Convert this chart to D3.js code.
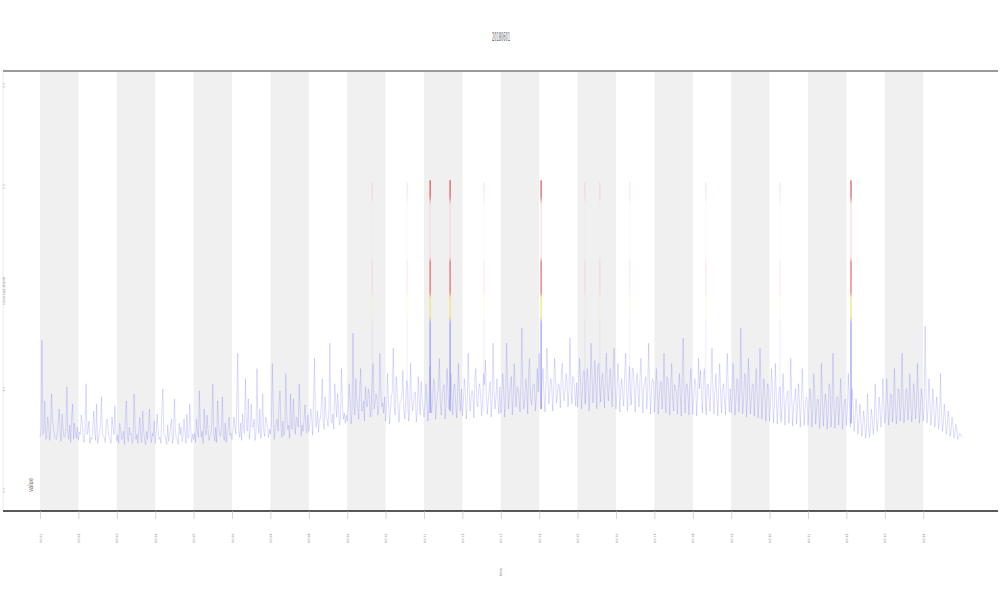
<!DOCTYPE html>
<html><head><meta charset="utf-8">
<script src="https://cdn.jsdelivr.net/npm/d3@7/dist/d3.min.js"></script>
<style>body{margin:0;background:#fff}svg{display:block}</style>
</head><body>
<svg id="c" width="1000" height="600"></svg>
<script>
const title = "20180601";
const xTitle = "time";
const yTitle = "coverage_depth";
const legendLabel = "value";
const xTickValues = d3.range(0, 24);
const xTickLabels = ["06-01","06-02","06-03","06-04","06-05","06-06","06-07","06-08","06-09","06-10","06-11","06-12","06-13","06-14","06-15","06-16","06-17","06-18","06-19","06-20","06-21","06-22","06-23","06-24"];
const yTickValues = [0, 1, 2, 3, 4];
const bandStarts = [0, 2, 4, 6, 8, 10, 12, 14, 16, 18, 20, 22];
const sampleStep = 0.025;
// readings at even sample positions
const series = [
0.52,1.48,0.58,0.50,0.72,0.49,0.95,0.62,0.51,0.56,0.80,0.48,0.62,0.53,1.02,0.50,0.47,0.85,0.66,0.51,
0.49,0.55,0.66,0.47,1.05,0.58,0.46,0.50,0.78,0.49,0.46,0.58,0.92,0.53,0.47,0.70,0.52,0.46,0.63,0.83,
0.48,0.46,0.60,0.52,0.45,0.88,0.48,0.55,0.46,0.95,0.50,0.46,0.72,0.47,0.58,0.45,0.50,0.80,0.47,0.53,
0.46,0.75,0.50,0.46,1.00,0.55,0.45,0.48,0.62,0.46,0.90,0.52,0.45,0.55,0.48,0.70,0.46,0.51,0.85,0.47,
0.50,0.47,0.58,0.98,0.52,0.46,0.60,0.74,0.49,0.55,1.05,0.48,0.47,0.66,0.53,0.92,0.49,0.47,0.60,0.54,
0.50,0.72,0.55,1.35,0.52,0.49,0.60,1.10,0.58,0.50,0.85,0.62,0.49,1.20,0.56,0.51,0.95,0.53,0.68,0.52,
0.55,1.25,0.50,0.66,0.58,0.98,0.52,0.54,1.15,0.60,0.51,0.62,0.90,0.55,0.70,1.05,0.53,0.58,0.84,0.56,
0.58,0.80,0.54,1.30,0.62,0.57,0.70,1.10,0.60,0.74,0.63,1.45,0.66,0.60,0.88,0.95,0.64,1.20,0.70,0.66,
0.68,1.05,0.65,1.55,0.74,0.90,0.70,1.20,0.78,0.68,0.85,1.00,0.72,1.10,0.80,0.95,0.74,1.35,0.82,0.76,
0.68,1.15,0.65,0.92,1.40,0.74,1.00,0.67,0.88,1.18,0.70,1.08,0.68,1.25,0.78,0.96,0.67,1.12,0.74,0.90,
0.72,1.05,0.68,1.22,0.76,1.10,0.70,0.95,1.30,0.74,1.00,0.70,1.20,0.80,1.15,0.74,1.05,0.71,1.25,0.78,
0.73,1.10,0.70,1.35,0.78,0.98,0.71,1.20,0.82,1.05,0.73,1.15,1.28,0.75,1.00,0.72,1.45,0.80,1.10,0.75,
0.76,1.15,0.72,1.45,0.80,1.05,0.74,1.25,0.82,1.00,0.77,1.60,0.80,1.10,0.75,1.30,0.84,1.05,0.78,1.20,
1.35,0.80,1.20,0.77,1.40,0.85,1.10,0.78,1.30,0.86,1.05,0.81,1.25,0.88,1.15,0.82,1.50,0.85,1.10,0.83,
0.82,1.30,0.80,1.18,0.85,1.20,0.78,1.45,0.86,1.28,0.80,1.25,0.87,1.15,0.81,1.35,0.88,1.20,0.82,1.40,
0.80,1.25,0.77,1.10,0.83,1.35,0.78,1.22,0.84,1.20,0.77,1.15,0.82,1.30,0.76,1.05,0.80,1.45,0.75,1.10,
0.77,1.20,0.75,1.05,0.80,1.35,0.76,1.10,0.74,1.25,0.78,1.00,0.75,1.15,0.73,1.50,0.76,1.05,0.74,1.20,
0.75,1.10,0.73,1.30,1.18,0.76,1.20,0.74,1.05,0.78,1.40,0.75,1.15,0.73,1.25,0.76,1.05,0.74,1.35,0.77,
0.76,1.25,0.74,1.10,0.77,1.60,0.75,1.15,0.72,1.30,0.75,1.05,0.73,1.20,0.71,1.40,0.70,1.10,0.68,1.05,
0.68,1.20,0.66,1.25,0.65,1.00,0.67,1.15,0.64,0.95,0.66,1.30,0.63,0.90,0.65,1.05,0.62,1.20,0.64,0.92,
0.64,1.00,0.62,1.15,0.65,0.90,0.61,1.25,0.63,0.95,0.60,1.05,0.62,1.35,0.61,0.92,0.64,1.10,0.60,0.88,
0.64,1.15,0.62,1.00,0.58,0.90,0.55,0.85,0.53,0.78,0.51,0.95,0.52,0.80,0.55,1.05,0.58,0.92,0.62,1.10,
0.66,1.10,0.64,0.95,0.67,1.20,0.65,1.00,0.68,1.35,0.66,0.98,0.69,1.15,0.67,1.05,0.70,1.25,0.66,1.00,
0.68,1.62,0.66,1.10,0.64,1.00,0.62,0.92,0.60,1.15,0.58,0.85,0.55,0.78,0.53,0.72,0.51,0.65,0.50,0.56,
0.52];
// readings at odd (in-between) sample positions
const seriesB = [
0.60,0.55,0.88,0.52,0.65,0.58,0.70,0.54,0.50,0.68,0.57,0.75,0.52,0.60,0.55,0.64,0.72,0.50,0.58,0.62,
0.57,0.74,0.50,0.62,0.55,0.68,0.52,0.60,0.57,0.85,0.50,0.63,0.56,0.52,0.66,0.58,0.50,0.72,0.55,0.60,
0.54,0.66,0.50,0.58,0.72,0.52,0.62,0.56,0.50,0.64,0.55,0.60,0.52,0.78,0.50,0.58,0.62,0.53,0.56,0.68,
0.55,0.60,0.52,0.82,0.56,0.50,0.64,0.54,0.70,0.52,0.58,0.50,0.66,0.62,0.53,0.57,0.75,0.52,0.60,0.55,
0.56,0.70,0.52,0.62,0.58,0.80,0.54,0.60,0.52,0.68,0.57,0.62,0.88,0.55,0.60,0.53,0.66,0.58,0.72,0.56,
0.60,0.62,0.85,0.58,0.66,0.75,0.56,0.64,0.90,0.58,0.62,0.70,0.56,0.66,0.80,0.60,0.58,0.72,0.62,0.60,
0.64,0.78,0.60,0.70,0.85,0.62,0.68,0.58,0.75,0.64,0.95,0.60,0.66,0.72,0.62,0.80,0.64,0.70,0.62,0.74,
0.66,0.72,0.90,0.64,0.78,0.70,0.85,0.66,0.92,0.70,0.80,0.68,0.75,1.05,0.72,0.80,0.70,0.86,0.76,0.74,
0.80,0.92,0.76,0.85,1.10,0.80,0.96,0.78,0.88,1.02,0.82,0.94,0.80,1.25,0.84,0.90,0.82,1.00,0.86,0.92,
0.80,0.90,0.76,0.97,0.82,1.12,0.78,0.87,0.94,0.80,0.88,1.02,0.77,0.92,0.84,0.97,0.80,0.90,1.07,0.82,
0.84,0.92,0.80,0.97,0.88,1.07,0.82,1.00,0.86,0.94,1.04,0.84,0.97,0.88,0.92,1.02,0.85,0.96,0.89,1.00,
0.87,0.97,0.84,1.02,0.90,0.94,1.12,0.87,1.00,0.92,0.88,1.04,0.92,0.89,1.07,0.87,0.97,0.92,0.90,1.02,
0.92,1.00,0.88,1.04,0.94,1.12,0.90,0.97,1.02,0.92,1.07,0.94,0.90,1.00,1.17,0.92,0.98,1.04,0.92,0.97,
0.97,1.07,0.94,1.02,1.12,0.96,1.04,0.98,1.10,0.94,1.02,1.14,0.96,1.00,1.07,0.97,1.04,1.12,0.98,1.06,
1.00,1.10,0.97,1.17,1.02,1.07,0.98,1.12,1.04,1.00,1.22,1.02,1.08,0.98,1.14,1.02,1.07,1.00,1.18,1.04,
0.98,1.07,1.02,0.94,1.12,1.00,1.04,0.97,1.20,1.00,1.06,0.96,1.10,0.98,1.02,1.12,0.96,1.04,1.00,1.07,
0.96,1.02,0.92,1.07,0.98,0.94,1.12,0.96,1.02,0.90,1.04,0.97,1.00,0.92,1.14,0.96,1.02,0.94,1.06,0.98,
0.94,1.04,0.92,1.00,0.96,1.07,0.92,1.02,0.90,1.10,0.96,0.98,0.92,1.04,0.94,1.00,0.90,1.06,0.96,1.00,
0.94,1.02,0.90,1.07,0.96,0.98,0.92,1.12,0.94,1.00,0.90,1.04,0.92,0.97,0.88,1.02,0.90,0.96,0.86,1.00,
0.87,0.97,0.84,0.92,0.88,1.02,0.82,0.90,0.86,0.98,0.82,0.92,0.84,1.00,0.80,0.88,0.84,0.94,0.80,0.90,
0.82,0.90,0.78,0.96,0.80,0.87,0.77,0.92,0.82,0.86,0.78,1.00,0.80,0.88,0.77,0.92,0.82,0.86,0.76,0.90,
0.78,0.87,0.74,0.82,0.70,0.78,0.66,0.72,0.62,0.68,0.60,0.64,0.62,0.70,0.66,0.76,0.70,0.80,0.74,0.84,
0.80,0.88,0.76,0.94,0.82,0.87,0.78,0.97,0.84,0.90,0.80,1.00,0.82,0.88,0.78,0.94,0.84,0.90,0.80,0.92,
0.82,0.97,0.80,0.88,0.76,0.84,0.72,0.80,0.70,0.76,0.66,0.72,0.62,0.68,0.58,0.64,0.55,0.60,0.53,0.55];
// isolated high readings: position (x units), value, and whether the trace is saturated
const peakPos    = [8.65, 9.56, 10.16, 10.68, 11.56, 13.05, 14.19, 14.58, 15.36, 17.34, 19.27, 21.12];
const peakValue  = [3.04, 3.04, 3.06, 3.06, 3.04, 3.06, 3.04, 3.04, 3.04, 3.04, 3.04, 3.06];
const peakBase   = [0.72, 0.75, 0.76, 0.78, 0.78, 0.80, 0.84, 0.84, 0.82, 0.78, 0.70, 0.66];
const peakStrong = [false, false, true, true, false, true, false, false, false, false, false, true];

(function () {
const svg = d3.select("#c");
const pl = 3, pr = 998, pt = 72, pb = 511;
const x = d3.scaleLinear().domain([(pl-40)/38.4, (pr-40)/38.4]).range([pl, pr]);
const y = d3.scaleLinear().domain([(490-pb)/101.25, (490-pt)/101.25]).range([pb, pt]);

svg.append("g").selectAll("rect").data(bandStarts).join("rect")
  .attr("x", d => x(d)).attr("width", d => x(d+1)-x(d))
  .attr("y", pt).attr("height", pb-pt).attr("fill", "#f0f0f0");

svg.append("line").attr("x1", pl).attr("x2", pl).attr("y1", pt).attr("y2", pb)
  .attr("stroke", "#ececec").attr("stroke-width", 1);

const defs = svg.append("defs");
const g = defs.append("linearGradient").attr("id", "vg").attr("gradientUnits", "userSpaceOnUse")
  .attr("x1", 0).attr("x2", 0).attr("y1", y(3.1)).attr("y2", y(0));
const yTop = y(3.1), yBot = y(0), span = yBot - yTop;
const stop = (py, c) => g.append("stop").attr("offset", Math.max(0, Math.min(1, (py - yTop)/span))).attr("stop-color", c);
stop(y(3.1), "#e02020"); stop(y(2.9), "#e03030"); stop(y(2.82), "#f4d4d4"); stop(y(2.3), "#f4d4d4");
stop(y(2.25), "#e04040"); stop(y(1.95), "#e04848"); stop(y(1.9), "#f0e050"); stop(y(1.72), "#f0e050");
stop(y(1.65), "#8080ff"); stop(y(0), "#8080ff");

const trace = [];
series.forEach((v, i) => { trace.push(v); if (i < seriesB.length) trace.push(seriesB[i]); });
const line = d3.line().x((d, i) => x(i*sampleStep)).y(d => y(d));
svg.append("path").datum(trace).attr("d", line).attr("fill", "none")
  .attr("stroke", "#5050ff").attr("stroke-width", 0.6).attr("stroke-opacity", 0.33);

const peaks = peakPos.map((p, i) => ({p, v: peakValue[i], b: peakBase[i], s: peakStrong[i]}));
svg.append("g").selectAll("line").data(peaks).join("line")
  .attr("x1", d => x(d.p)).attr("x2", d => x(d.p) + 0.001)
  .attr("y1", d => y(d.b)).attr("y2", d => y(d.v))
  .attr("stroke", "url(#vg)").attr("stroke-width", d => d.s ? 1.3 : 1)
  .attr("stroke-opacity", d => d.s ? 0.75 : 0.14);

svg.append("line").attr("x1", pl).attr("x2", pr).attr("y1", 71).attr("y2", 71)
  .attr("stroke", "#9a9a9a").attr("stroke-width", 2);
svg.append("line").attr("x1", pl).attr("x2", pr).attr("y1", pb).attr("y2", pb)
  .attr("stroke", "#222").attr("stroke-width", 1.5);

const xa = svg.append("g").attr("transform", `translate(0,${pb})`)
  .call(d3.axisBottom(x).tickValues(xTickValues).tickSize(8).tickFormat((d,i) => xTickLabels[i]));
xa.select(".domain").remove();
xa.selectAll(".tick line").attr("stroke", "#bbb").attr("stroke-width", 0.6);
xa.selectAll(".tick text").attr("font-family", "DejaVu Sans").attr("font-size", 3.2).attr("fill", "#888")
  .attr("transform", "translate(0,27) rotate(-90)").attr("dy", "0.35em").attr("y", 0).attr("text-anchor", "middle");

const ya = svg.append("g").attr("transform", `translate(${pl},0)`)
  .call(d3.axisLeft(y).tickValues(yTickValues).tickSize(0).tickFormat(d3.format(".1f")));
ya.select(".domain").remove();
ya.selectAll(".tick text").attr("font-family", "DejaVu Sans").attr("font-size", 3).attr("fill", "#aaa")
  .attr("transform", "translate(1,0) rotate(-90)").attr("x", 0).attr("dy", "0.35em").attr("text-anchor", "middle");

svg.append("text").attr("x", 501).attr("y", 41).attr("text-anchor", "middle")
  .attr("font-family", "DejaVu Sans").attr("font-size", 12).attr("fill", "#666")
  .attr("textLength", 18).attr("lengthAdjust", "spacingAndGlyphs").text(title);
svg.append("text").attr("transform", "translate(501,572) rotate(-90)").attr("text-anchor", "middle")
  .attr("dy", "0.35em").attr("font-family", "DejaVu Sans").attr("font-size", 3.5).attr("fill", "#888").text(xTitle);
svg.append("text").attr("transform", "translate(4,291) rotate(-90)").attr("text-anchor", "middle")
  .attr("dy", "0.35em").attr("font-family", "DejaVu Sans").attr("font-size", 3.5).attr("fill", "#aaa").text(yTitle);
svg.append("text").attr("transform", "translate(31,485) rotate(-90)").attr("text-anchor", "middle")
  .attr("dy", "0.35em").attr("font-family", "DejaVu Sans").attr("font-size", 7).attr("fill", "#666")
  .attr("textLength", 14).attr("lengthAdjust", "spacingAndGlyphs").text(legendLabel);
})();
</script>
</body></html>
